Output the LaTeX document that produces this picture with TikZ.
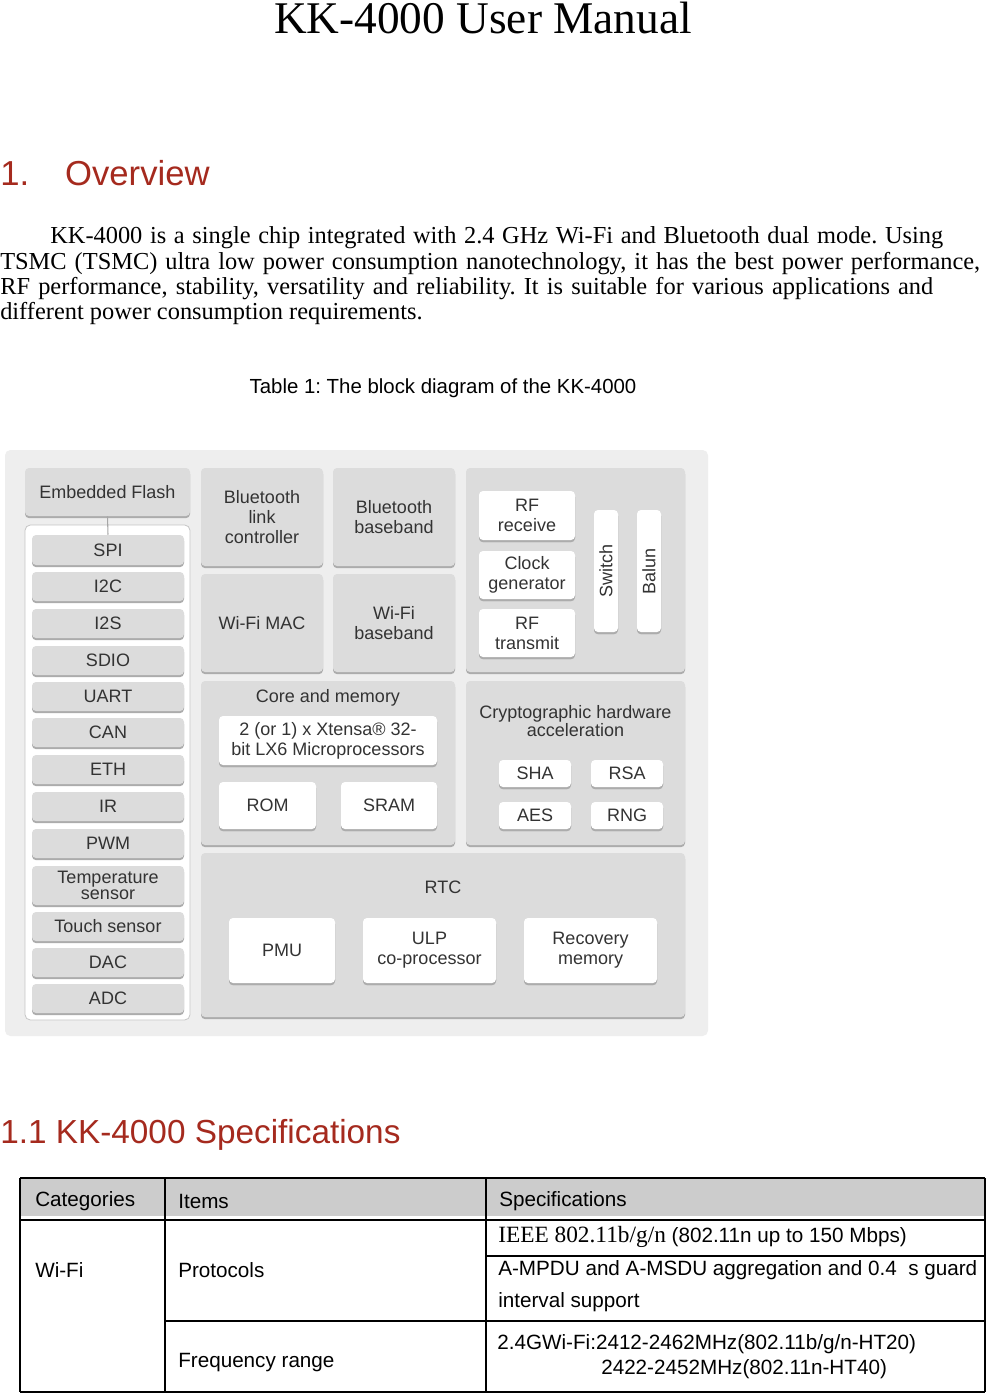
\documentclass[tikz,border=0pt]{standalone}
\usepackage{fontspec}
\setmainfont{Liberation Serif}
\newfontfamily\sfx{Liberation Sans}
\usetikzlibrary{shadows}
\definecolor{redh}{HTML}{A52A1E}
\definecolor{boxg}{HTML}{DCDCDC}
\definecolor{bgp}{HTML}{EEEEEE}
\definecolor{txg}{HTML}{333333}
\frenchspacing
\newcommand\bx[7][]{\node[gb,#1,minimum width=#5*0.75pt,minimum height=#6*0.75pt] (#2) at (#3,#4) {#7};}
\begin{document}
\begin{tikzpicture}[x=0.75pt,y=-0.75pt,
  gb/.style={rounded corners=3pt,fill=boxg,draw=none,inner sep=1pt,align=center,text=txg,
     font=\sfx\fontsize{13.5}{15}\selectfont,general shadow={fill=gray!65,shadow yshift=-1.6pt}},
  wb/.style={gb,fill=white},
  lbl/.style={inner sep=0pt,text=txg,font=\sfx\fontsize{13.5}{14}\selectfont,align=center},
  tt/.style={anchor=west,inner sep=0pt,font=\sfx\fontsize{15.5}{17}\selectfont},
  bl/.style={anchor=west,inner sep=0pt,font=\fontsize{18.3}{20}\selectfont}]
\useasboundingbox (0,0) rectangle (987,1394);
\fill[white] (0,0) rectangle (987,1394);
% heading text
\node[inner sep=0pt,font=\fontsize{34}{36}\selectfont] (title) at (483,18) {KK-4000 User Manual};
\node[anchor=west,inner sep=0pt,text=redh,font=\sfx\fontsize{26}{28}\selectfont] (ov) at (0,173) {1.\hspace{27pt}Overview};
\node[bl] (p1) at (50,238) {\makebox[893\dimexpr0.75pt\relax][s]{KK-4000 is a single chip integrated with 2.4 GHz Wi-Fi and Bluetooth dual mode. Using}};
\node[bl] (p2) at (0,264) {\makebox[980\dimexpr0.75pt\relax][s]{TSMC (TSMC) ultra low power consumption nanotechnology, it has the best power performance,}};
\node[bl] (p3) at (0,289) {\makebox[933\dimexpr0.75pt\relax][s]{RF performance, stability, versatility and reliability. It is suitable for various applications and}};
\node[bl] (p4) at (0,314) {different power consumption requirements.};
\node[inner sep=0pt,font=\sfx\fontsize{15.3}{17}\selectfont] (cap) at (443,388) {Table 1: The block diagram of the KK-4000};
% diagram
\node[rounded corners=4pt,fill=bgp,minimum width=703*0.75pt,minimum height=586*0.75pt] (bg) at (356.5,743) {};
\bx{flash}{107.5}{492}{165}{48}{Embedded Flash}
\node[rounded corners=4pt,fill=white,draw=gray!45,line width=0.6pt,minimum width=165*0.75pt,minimum height=495*0.75pt] (pan) at (107.5,772.5) {};
\bx{spi}{108}{550}{152}{30}{SPI}
\bx{i2c}{108}{586.5}{152}{29}{I2C}
\bx{i2s}{108}{623.5}{152}{29}{I2S}
\bx{sdio}{108}{660.5}{152}{29}{SDIO}
\bx{uart}{108}{696.5}{152}{29}{UART}
\bx{can}{108}{732.5}{152}{29}{CAN}
\bx{eth}{108}{769.5}{152}{29}{ETH}
\bx{ir}{108}{806.5}{152}{29}{IR}
\bx{pwm}{108}{843.5}{152}{29}{PWM}
\bx[font=\sfx\fontsize{13.5}{11.5}\selectfont]{temp}{108}{885.5}{152}{39}{Temperature\\sensor}
\bx{touch}{108}{926.5}{152}{29}{Touch sensor}
\bx{dac}{108}{962.5}{152}{29}{DAC}
\bx{adc}{108}{998.5}{152}{29}{ADC}
\draw[gray!70,line width=0.8pt] (flash.south) -- (spi.north);
\bx{btl}{262}{517}{122}{98}{Bluetooth\\link\\controller}
\bx{btb}{394}{517}{122}{98}{Bluetooth\\baseband}
\bx{wmac}{262}{623}{122}{98}{Wi-Fi MAC}
\bx{wbb}{394}{623}{122}{98}{Wi-Fi\\baseband}
\bx{rfp}{575.5}{570}{219}{204}{}
\bx[wb]{rfr}{527}{515.5}{96}{49}{RF\\receive}
\bx[wb]{clk}{527}{575}{96}{48}{Clock\\generator}
\bx[wb]{rft}{527}{633}{96}{48}{RF\\transmit}
\bx[wb]{sw}{606}{571}{24}{122}{\rotatebox{90}{Switch}}
\bx[wb]{bal}{649}{571}{24}{122}{\rotatebox{90}{Balun}}
\bx{core}{328}{763}{254}{164}{}
\node[lbl] (coret) at (328,698) {Core and memory};
\bx[wb]{xt}{328}{740.5}{218}{49}{2 (or 1) x Xtensa\textregistered{} 32-\\bit LX6 Microprocessors}
\bx[wb]{rom}{267.5}{805.5}{97}{47}{ROM}
\bx[wb]{sram}{389}{805.5}{96}{47}{SRAM}
\bx{cry}{575.5}{763}{219}{164}{}
\node[lbl,font=\sfx\fontsize{13.5}{13}\selectfont] (cryt) at (575.5,721) {Cryptographic hardware\\acceleration};
\bx[wb]{sha}{535}{773.5}{72}{27}{SHA}
\bx[wb]{rsa}{627}{773.5}{72}{27}{RSA}
\bx[wb]{aes}{535}{815.5}{72}{27}{AES}
\bx[wb]{rng}{627}{815.5}{72}{27}{RNG}
\bx{rtc}{443}{935}{484}{164}{}
\node[lbl] (rtct) at (443,887) {RTC};
\bx[wb]{pmu}{282}{950.5}{106}{65}{PMU}
\bx[wb]{ulp}{429.5}{950.5}{133}{65}{ULP\\co-processor}
\bx[wb]{rec}{590.5}{950.5}{133}{65}{Recovery\\memory}
% specs heading
\node[anchor=west,inner sep=0pt,text=redh,font=\sfx\fontsize{25}{27}\selectfont] (spec) at (0,1135) {1.1 KK-4000 Specifications};
% table
\fill[gray!40] (20,1178) rectangle (985,1216);
\draw[line width=1.5pt] (20,1178) -- (985,1178);
\draw[line width=1.6pt] (20,1220) -- (985,1220);
\draw[line width=1.2pt] (20,1178) -- (20,1392) (165,1178) -- (165,1392) (486,1178) -- (486,1392) (985,1178) -- (985,1392);
\draw[line width=1.2pt] (486,1256) -- (985,1256) (165,1321) -- (985,1321);
\draw[line width=1.6pt] (20,1392) -- (985,1392);
\node[tt] (h1) at (35,1201) {Categories};
\node[tt] (h2) at (178,1201) {Items};
\node[tt] (h3) at (499,1201) {Specifications};
\node[tt] (c1) at (35,1270) {Wi-Fi};
\node[tt] (c2) at (178,1270) {Protocols};
\node[tt] (c3) at (178,1363) {Frequency range};
\node[tt] (s1) at (498,1237) {{\rmfamily\fontsize{17.5}{18}\selectfont IEEE 802.11b/g/n} (802.11n up to 150 Mbps)};
\node[tt] (s2) at (498,1270) {A-MPDU and A-MSDU aggregation and 0.4\ \ s guard};
\node[tt] (s3) at (498,1302) {interval support};
\node[tt] (s4) at (497,1344) {2.4GWi-Fi:2412-2462MHz(802.11b/g/n-HT20)};
\node[tt] (s5) at (601,1369) {2422-2452MHz(802.11n-HT40)};
\end{tikzpicture}
\end{document}
